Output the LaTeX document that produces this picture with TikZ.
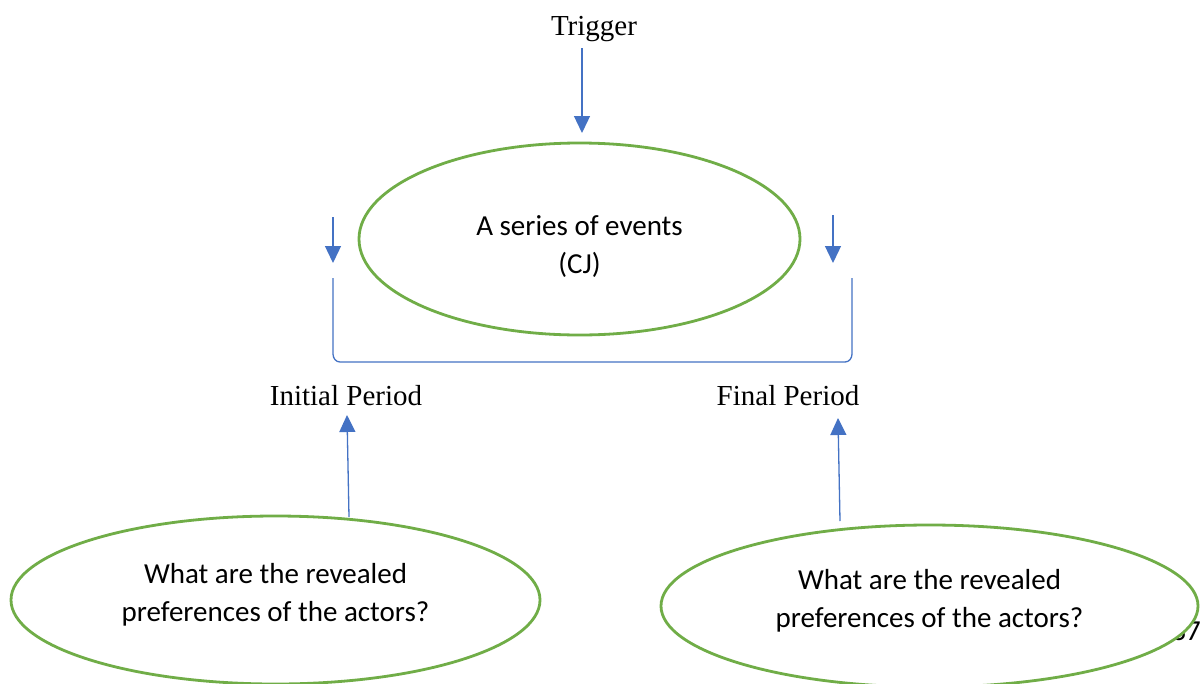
\documentclass[tikz,border=0pt]{standalone}
\usepackage{fontspec}
\setmainfont{Liberation Serif}
\newfontfamily\bodysans{Carlito}
\usetikzlibrary{shapes.geometric,arrows.meta}
\definecolor{arrowblue}{HTML}{4472C4}
\definecolor{leafgreen}{HTML}{70AD47}
\tikzset{
  bubble/.style={ellipse, draw=leafgreen, line width=2.8pt, fill=white, inner sep=0pt},
  bubbletext/.style={align=center, inner sep=0pt, font=\bodysans\fontsize{29}{38}\selectfont},
  label/.style={font=\fontsize{29}{34}\selectfont, inner sep=0pt},
  arr/.style={draw=arrowblue, line width=1.3pt, -{Triangle[length=17pt,width=16pt]}},
  link/.style={draw=arrowblue, line width=1.3pt}
}
\begin{document}
\begin{tikzpicture}[x=1pt,y=-1pt]
\useasboundingbox (0,0) rectangle (1202,683);
\fill[white] (0,0) rectangle (1202,683);

% page number, partly hidden behind the right bubble
\node[font=\bodysans\fontsize{29}{34}\selectfont, inner sep=0pt] (pg) at (1186,631) {37};

% titles
\node[label] (trigger) at (594,29) {Trigger};
\node[label] (init) at (346,396) {Initial Period};
\node[label] (final) at (788,396) {Final Period};

% bubbles
\node[bubble, minimum width=441pt, minimum height=192pt] (events) at (579.5,239) {};
\node[bubble, minimum width=529pt, minimum height=168pt] (left) at (275.5,600) {};
\node[bubble, minimum width=537pt, minimum height=162pt] (right) at (929.5,606) {};

% bubble texts
\node[bubbletext] (eventsT) at (579.5,246.5) {A series of events\\(CJ)};
\node[bubbletext] (leftT) at (275.5,595) {What are the revealed\\preferences of the actors?};
\node[bubbletext] (rightT) at (929.5,601) {What are the revealed\\preferences of the actors?};

% trigger arrow
\coordinate (tt) at (582,48);
\coordinate (te) at (582,133);
\draw[arr] (tt) -- (te);

% small arrows beside the events bubble
\coordinate (la1) at (333,217);
\coordinate (la2) at (333,263);
\coordinate (ra1) at (833,215);
\coordinate (ra2) at (833,263);
\draw[arr] (la1) -- (la2);
\draw[arr] (ra1) -- (ra2);

% bracket spanning both periods
\coordinate (bl) at (333,278);
\coordinate (br) at (852,278);
\draw[link] (bl) -- (333,354) to[out=-90,in=180] (340,362) -- (845,362) to[out=0,in=-90] (852,354) -- (br);

% arrows from the questions up to the periods
\coordinate (lq) at (349,517);
\coordinate (li) at (347,415);
\coordinate (rq) at (840,521);
\coordinate (ri) at (838,418);
\draw[arr] (lq) -- (li);
\draw[arr] (rq) -- (ri);
\end{tikzpicture}
\end{document}
